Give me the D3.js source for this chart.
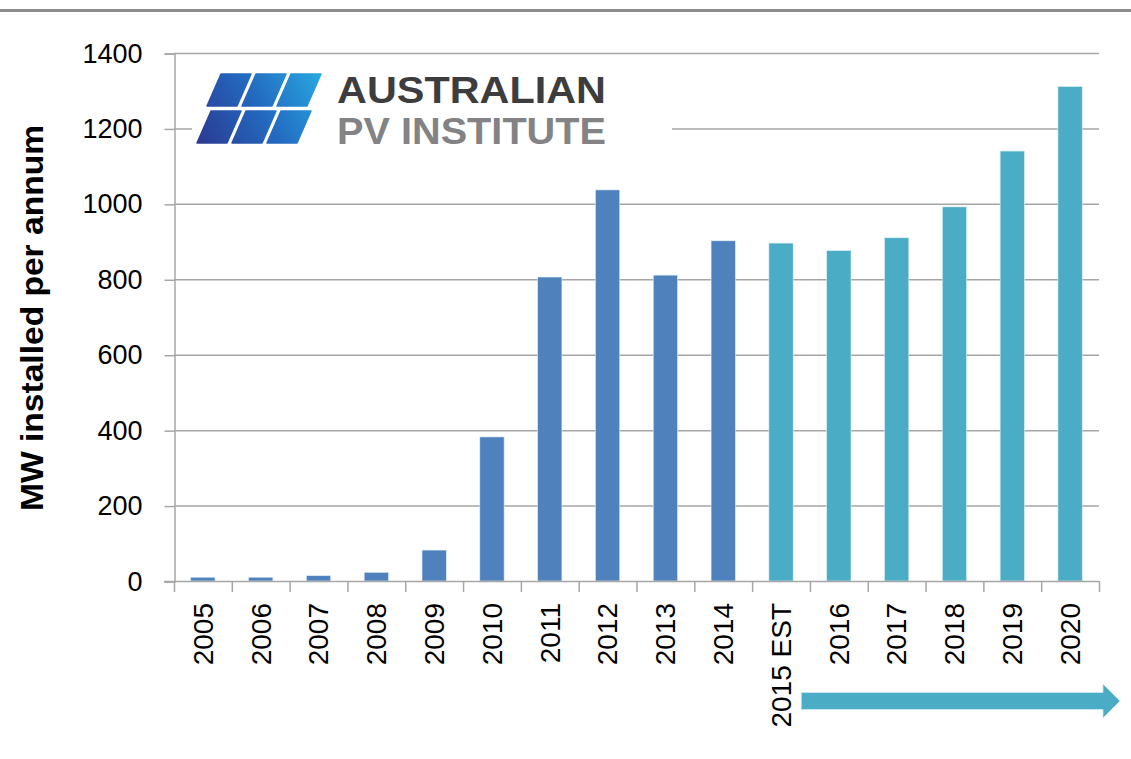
<!DOCTYPE html>
<html>
<head>
<meta charset="utf-8">
<script src="https://cdn.jsdelivr.net/npm/d3@7"></script>
<style>
  html, body { margin: 0; padding: 0; background: #fff; }
  svg { display: block; font-family: "Liberation Sans", Arial, sans-serif; }
</style>
</head>
<body>
<svg id="chart" width="1131" height="759"></svg>
<script>
// ---- data ----
const categories = ["2005","2006","2007","2008","2009","2010","2011","2012","2013","2014",
                    "2015 EST","2016","2017","2018","2019","2020"];
const values = [10, 10, 14, 23, 82, 382, 806, 1037, 811, 902, 896, 876, 910, 992, 1140, 1311];
const projected = [false,false,false,false,false,false,false,false,false,false,
                   true,true,true,true,true,true];
const yTicks = [0, 200, 400, 600, 800, 1000, 1200, 1400];
const yTitle = "MW installed per annum";
const logoLine1 = "AUSTRALIAN";
const logoLine2 = "PV INSTITUTE";

// ---- layout ----
const W = 1131, H = 759;
const plot = { left: 174, right: 1099, top: 53, bottom: 581 };
const colActual = "#4F81BD", colProj = "#4BACC6";
const gridCol = "#a6a6a6";

const svg = d3.select("#chart");

// top border
svg.append("line").attr("x1", 0).attr("x2", W).attr("y1", 10.5).attr("y2", 10.5)
  .attr("stroke", "#8c8c8c").attr("stroke-width", 3);

const x = d3.scaleBand().domain(categories).range([plot.left, plot.right]).padding(0);
const y = d3.scaleLinear().domain([0, 1400]).range([plot.bottom, plot.top]);
const barW = x.bandwidth() * 0.42;

// gridlines
svg.append("g").selectAll("line").data(yTicks.filter(t => t > 0)).join("line")
  .attr("x1", plot.left).attr("x2", plot.right)
  .attr("y1", d => y(d) + 0.5).attr("y2", d => y(d) + 0.5)
  .attr("stroke", gridCol).attr("stroke-width", 1.5);

// y axis
const yAxis = d3.axisLeft(y).tickValues(yTicks).tickSize(10).tickPadding(22).tickFormat(d3.format("d"));
const gy = svg.append("g").attr("transform", `translate(${plot.left + 0.5},0.5)`).call(yAxis);
gy.select(".domain").attr("stroke", gridCol).attr("stroke-width", 1.5);
gy.selectAll(".tick line").attr("stroke", gridCol).attr("stroke-width", 1.5);
gy.selectAll(".tick text").attr("font-size", 27).attr("fill", "#000")
  .attr("font-family", "'Liberation Sans', Arial, sans-serif");

// bars
svg.append("g").selectAll("rect").data(categories).join("rect")
  .attr("x", (d) => x(d) + (x.bandwidth() - barW) / 2)
  .attr("width", barW)
  .attr("y", (d, i) => y(values[i]))
  .attr("height", (d, i) => y(0) - y(values[i]))
  .attr("fill", (d, i) => projected[i] ? colProj : colActual)
  .attr("stroke", "#dbeef4").attr("stroke-width", 0.6);

// x axis line with boundary ticks
svg.append("line").attr("x1", plot.left - 10).attr("x2", plot.right)
  .attr("y1", plot.bottom + 0.5).attr("y2", plot.bottom + 0.5)
  .attr("stroke", gridCol).attr("stroke-width", 1.5);
const bounds = categories.map(c => x(c)).concat([plot.right]);
svg.append("g").selectAll("line").data(bounds).join("line")
  .attr("x1", d => d + 0.5).attr("x2", d => d + 0.5)
  .attr("y1", plot.bottom).attr("y2", plot.bottom + 11)
  .attr("stroke", gridCol).attr("stroke-width", 1.5);

// x labels rotated
svg.append("g").selectAll("text").data(categories).join("text")
  .attr("transform", d => `translate(${x(d) + x.bandwidth() / 2},${plot.bottom + 22}) rotate(-90)`)
  .attr("text-anchor", "end").attr("dy", "0.35em")
  .attr("font-size", 28).attr("fill", "#000")
  .text(d => d);

// y title
svg.append("text")
  .attr("transform", `translate(32,318) rotate(-90)`)
  .attr("text-anchor", "middle").attr("dy", "0.35em")
  .attr("font-size", 31).attr("font-weight", "bold").attr("fill", "#000")
  .attr("textLength", 386).attr("lengthAdjust", "spacingAndGlyphs")
  .text(yTitle);

// logo
const defs = svg.append("defs");
const grad = defs.append("linearGradient").attr("id", "logoGrad")
  .attr("gradientUnits", "userSpaceOnUse")
  .attr("x1", 197).attr("y1", 143).attr("x2", 324).attr("y2", 74);
grad.append("stop").attr("offset", "0%").attr("stop-color", "#2B3990");
grad.append("stop").attr("offset", "50%").attr("stop-color", "#2369C0");
grad.append("stop").attr("offset", "100%").attr("stop-color", "#27AAE1");

const logo = svg.append("g");
logo.append("rect").attr("x", 192).attr("y", 62).attr("width", 480).attr("height", 90).attr("fill", "#fff");
const tileRows = [{ top: 74, bottom: 106, left: 221 }, { top: 111, bottom: 143, left: 211 }];
const tileCols = [0, 1, 2];
const pitch = 35, tw = 30, skew = 14;
tileRows.forEach(r => {
  tileCols.forEach(c => {
    const tl = r.left + c * pitch;
    const pts = [[tl, r.top], [tl + tw, r.top], [tl + tw - skew, r.bottom], [tl - skew, r.bottom]];
    logo.append("path").attr("d", "M" + pts.map(p => p.join(",")).join("L") + "Z")
      .attr("fill", "url(#logoGrad)").attr("stroke", "url(#logoGrad)")
      .attr("stroke-width", 1.5).attr("stroke-linejoin", "round");
  });
});
logo.append("text").attr("x", 337).attr("y", 103).attr("font-size", 37).attr("font-weight", "bold")
  .attr("fill", "#3d3d3f").attr("textLength", 269).attr("lengthAdjust", "spacingAndGlyphs").text(logoLine1);
logo.append("text").attr("x", 337).attr("y", 144).attr("font-size", 37).attr("font-weight", "bold")
  .attr("fill", "#838385").attr("textLength", 269).attr("lengthAdjust", "spacingAndGlyphs").text(logoLine2);

// forecast arrow
const ax0 = x("2015 EST") + x.bandwidth() * 0.85;
const ax1 = plot.right + 21;
const ay = 701;
const shaft = 8.5, head = 17, headLen = 17;
svg.append("path")
  .attr("d", `M${ax0},${ay - shaft}L${ax1 - headLen},${ay - shaft}L${ax1 - headLen},${ay - head}L${ax1},${ay}` +
             `L${ax1 - headLen},${ay + head}L${ax1 - headLen},${ay + shaft}L${ax0},${ay + shaft}Z`)
  .attr("fill", colProj).attr("stroke", "#cde9f1").attr("stroke-width", 0.8);
</script>
</body>
</html>
